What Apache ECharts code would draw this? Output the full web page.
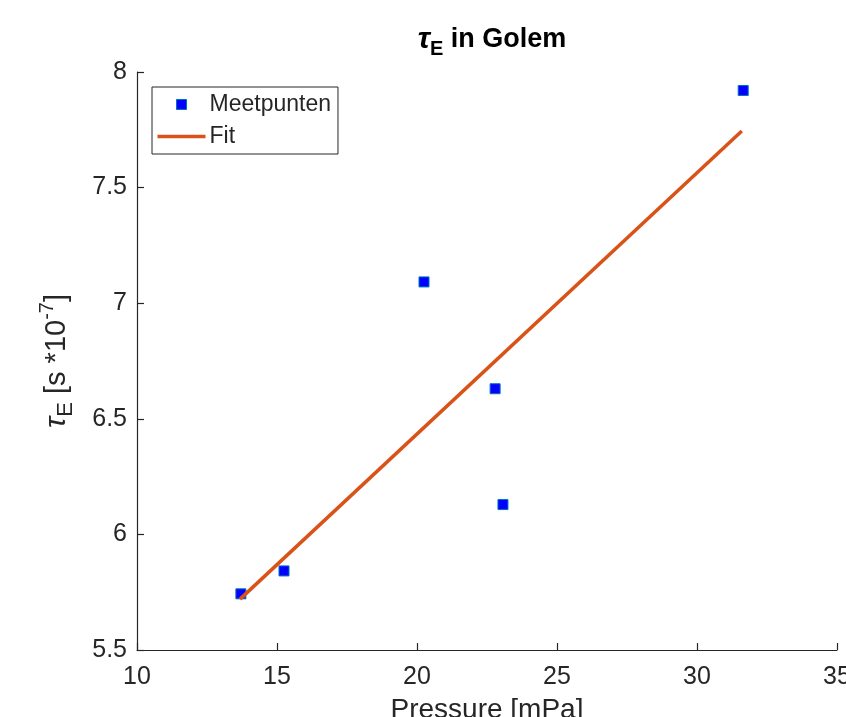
<!DOCTYPE html>
<html>
<head>
<meta charset="utf-8">
<script src="https://cdn.jsdelivr.net/npm/echarts@6/dist/echarts.min.js"></script>
<style>html,body{margin:0;padding:0;background:#fff;overflow:hidden;}#c{width:846px;height:717px;}</style>
</head>
<body>
<div id="c"></div>
<script>
var pressure = [13.71, 15.25, 20.25, 22.79, 23.07, 31.65];
var tauE = [5.743, 5.842, 7.092, 6.630, 6.129, 7.920];
var fitPressure = [13.68, 31.6];
var fitTau = [5.72, 7.745];
var xTicks = {min: 10, max: 35, step: 5};
var yTicks = {min: 5.5, max: 8, step: 0.5};

var FONT = 'Liberation Sans, Arial, Helvetica, sans-serif';
var AX = '#262626';

var chart = echarts.init(document.getElementById('c'));
var squarePath = 'path://M0,0M48,10M19,0h10v10h-10z';
var linePath = 'path://M0,0M48,10M0,3.25h48v3.5h-48z';

chart.setOption({
  animation: false,
  backgroundColor: '#fff',
  title: {
    text: '{t|τ}{s|E}{b| in Golem}',
    left: 487, top: 16, textAlign: 'center',
    textStyle: {
      rich: {
        t: {fontFamily: FONT, fontStyle: 'italic', fontSize: 30, color: '#000', lineHeight: 38, verticalAlign: 'middle'},
        s: {fontFamily: FONT, fontWeight: 'bold', fontSize: 20, color: '#000', verticalAlign: 'bottom', lineHeight: 38},
        b: {fontFamily: FONT, fontWeight: 'bold', fontSize: 27, color: '#000', lineHeight: 38, verticalAlign: 'middle'}
      }
    }
  },
  legend: {
    orient: 'vertical',
    left: 152, top: 87,
    padding: [6, 7, 6, 5],
    itemGap: 9,
    itemWidth: 48, itemHeight: 10,
    borderColor: AX, borderWidth: 1,
    backgroundColor: '#fff',
    textStyle: {fontFamily: FONT, fontSize: 23, color: AX, padding: [0, 0, 0, -1]},
    data: [
      {name: 'Meetpunten', icon: squarePath, itemStyle: {color: '#0000ff', borderColor: '#0072bd', borderWidth: 1}},
      {name: 'Fit', icon: linePath, itemStyle: {color: '#d95319', borderWidth: 0}}
    ]
  },
  grid: {left: 137, right: 9, top: 72, bottom: 67, outerBoundsMode: 'none', containLabel: false},
  xAxis: {
    type: 'value', min: xTicks.min, max: xTicks.max, interval: xTicks.step,
    name: 'Pressure [mPa]', nameLocation: 'middle', nameGap: 46,
    nameTextStyle: {fontFamily: FONT, fontSize: 28, color: AX},
    axisLine: {show: true, onZero: false, lineStyle: {color: AX, width: 1.2}},
    axisTick: {show: true, inside: true, length: 7, lineStyle: {color: AX, width: 1.2}},
    axisLabel: {fontFamily: FONT, fontSize: 25, color: AX, margin: 15},
    splitLine: {show: false}
  },
  yAxis: {
    type: 'value', min: yTicks.min, max: yTicks.max, interval: yTicks.step,
    name: '{t|τ}{s|E}{n| [s *10}{p|-7}{n|]}', nameLocation: 'middle', nameGap: 60, nameRotate: 90,
    nameTextStyle: {
      rich: {
        t: {fontFamily: FONT, fontStyle: 'italic', fontSize: 30, color: AX, lineHeight: 40, verticalAlign: 'middle'},
        s: {fontFamily: FONT, fontSize: 22, color: AX, lineHeight: 40, verticalAlign: 'bottom'},
        n: {fontFamily: FONT, fontSize: 29, color: AX, lineHeight: 40, verticalAlign: 'middle'},
        p: {fontFamily: FONT, fontSize: 20, color: AX, lineHeight: 40, verticalAlign: 'top'}
      }
    },
    axisLine: {show: true, onZero: false, lineStyle: {color: AX, width: 1.2}},
    axisTick: {show: true, inside: true, length: 7, lineStyle: {color: AX, width: 1.2}},
    axisLabel: {fontFamily: FONT, fontSize: 25, color: AX, margin: 10},
    splitLine: {show: false}
  },
  series: [
    {
      name: 'Meetpunten', type: 'scatter', symbol: 'rect', symbolSize: 10,
      itemStyle: {color: '#0000ff', borderColor: '#0072bd', borderWidth: 1, opacity: 1},
      data: pressure.map(function (p, i) { return [p, tauE[i]]; }),
      z: 3
    },
    {
      name: 'Fit', type: 'line', showSymbol: false, symbol: 'none',
      lineStyle: {color: '#d95319', width: 3.5},
      itemStyle: {color: '#d95319'},
      data: fitPressure.map(function (p, i) { return [p, fitTau[i]]; }),
      z: 4
    }
  ]
});
</script>
</body>
</html>
